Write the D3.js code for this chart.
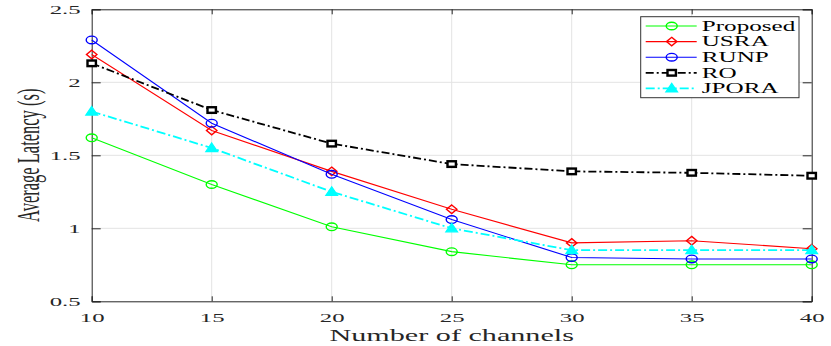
<!DOCTYPE html>
<html>
<head>
<meta charset="utf-8">
<script src="https://cdn.jsdelivr.net/npm/d3@7"></script>
<style>
body { margin: 0; background: #fff; }
text { font-family: "Liberation Serif", "Times New Roman", serif; fill: #262626; }
</style>
</head>
<body>
<div id="chart"></div>
<script>
// values
var channels = [10, 15, 20, 25, 30, 35, 40];
var proposed = [1.62, 1.30, 1.01, 0.84, 0.75, 0.75, 0.75];
var usra     = [2.19, 1.67, 1.39, 1.13, 0.90, 0.915, 0.86];
var runp     = [2.29, 1.72, 1.37, 1.06, 0.80, 0.79, 0.79];
var ro       = [2.13, 1.81, 1.58, 1.44, 1.39, 1.38, 1.36];
var jpora    = [1.80, 1.55, 1.25, 1.00, 0.85, 0.85, 0.85];
var seriesNames = ["Proposed", "USRA", "RUNP", "RO", "JPORA"];
var xTicks = [10, 15, 20, 25, 30, 35, 40];
var yTicks = [0.5, 1, 1.5, 2, 2.5];

var width = 831, height = 346;
var margin = {top: 9.3, right: 19.3, bottom: 44.7, left: 91.7};
var S = 1.85; // the figure is stretched sideways

var series = [
  {name: "Proposed", values: proposed, color: "#00ff00", marker: "circle",   dash: null,      lw: 1.1},
  {name: "USRA",     values: usra,     color: "#ff0000", marker: "diamond",  dash: null,      lw: 1.1},
  {name: "RUNP",     values: runp,     color: "#0000ff", marker: "circle",   dash: null,      lw: 1.1},
  {name: "RO",       values: ro,       color: "#000000", marker: "square",   dash: "8,3,2,3", lw: 1.8},
  {name: "JPORA",    values: jpora,    color: "#00ffff", marker: "triangle", dash: "9,3,2,3", lw: 1.8}
];

var svg = d3.select("#chart").append("svg")
  .attr("width", width)
  .attr("height", height);

var x = d3.scaleLinear().domain([10, 40]).range([margin.left, width - margin.right]);
var y = d3.scaleLinear().domain([0.5, 2.5]).range([height - margin.bottom, margin.top]);

// grid
svg.append("g").selectAll("line").data(xTicks.slice(1, -1)).enter().append("line")
  .attr("x1", function(d) { return x(d); }).attr("x2", function(d) { return x(d); })
  .attr("y1", y(0.5)).attr("y2", y(2.5))
  .attr("stroke", "#e3e3e3").attr("stroke-width", 1);
svg.append("g").selectAll("line").data(yTicks.slice(1, -1)).enter().append("line")
  .attr("x1", x(10)).attr("x2", x(40))
  .attr("y1", function(d) { return y(d); }).attr("y2", function(d) { return y(d); })
  .attr("stroke", "#e3e3e3").attr("stroke-width", 1);

// axes, matlab style ticks inside on all four sides
var fmt = function(d) { return d; };
var gx = svg.append("g").attr("transform", "translate(0," + y(0.5) + ")")
  .call(d3.axisBottom(x).tickValues(xTicks).tickSize(-5).tickPadding(0).tickFormat(fmt));
var gy = svg.append("g").attr("transform", "translate(" + x(10) + ",0)")
  .call(d3.axisLeft(y).tickValues(yTicks).tickSize(-9).tickPadding(0).tickFormat(fmt));
svg.append("g").attr("transform", "translate(0," + y(2.5) + ")")
  .call(d3.axisTop(x).tickValues(xTicks).tickSize(-5).tickFormat(""));
svg.append("g").attr("transform", "translate(" + x(40) + ",0)")
  .call(d3.axisRight(y).tickValues(yTicks).tickSize(-9).tickFormat(""));

svg.selectAll(".domain").attr("stroke", "#262626");
svg.selectAll(".tick line").attr("stroke", "#262626");

gx.selectAll("text")
  .attr("y", 0).attr("dy", null)
  .attr("transform", "translate(0,20.8) scale(" + S + ",1)")
  .style("font-size", "13.4px").style("fill", "#262626");
gy.selectAll("text")
  .attr("x", 0).attr("dy", "0.32em")
  .attr("transform", "translate(-11,0) scale(" + S + ",1)")
  .style("font-size", "13.4px").style("fill", "#262626");

// axis labels
svg.append("text")
  .attr("text-anchor", "middle")
  .attr("transform", "translate(" + (x(10) + x(40)) / 2 + ",340.7) scale(" + S + ",1)")
  .style("font-size", "16.3px")
  .text("Number of channels");
svg.append("text")
  .attr("text-anchor", "middle")
  .attr("transform", "translate(38.5," + (y(0.5) + y(2.5)) / 2 + ") scale(" + S + ",1) rotate(-90)")
  .style("font-size", "16.5px")
  .text("Average Latency (s)");

function marker(g, type, color) {
  if (type == "circle") {
    g.append("ellipse").attr("rx", 5.5).attr("ry", 3.8)
      .attr("fill", "none").attr("stroke", color).attr("stroke-width", 1.4);
  } else if (type == "diamond") {
    g.append("path").attr("d", "M0,-4.3L5.2,0L0,4.3L-5.2,0Z")
      .attr("fill", "none").attr("stroke", color).attr("stroke-width", 1.4);
  } else if (type == "square") {
    g.append("rect").attr("x", -4.2).attr("y", -2.8).attr("width", 8.4).attr("height", 5.6)
      .attr("fill", "#fff").attr("stroke", color).attr("stroke-width", 2.4);
  } else {
    g.append("path").attr("d", "M0,-5L5.8,3.5L-5.8,3.5Z")
      .attr("fill", color).attr("stroke", color).attr("stroke-width", 1.3);
  }
}

var line = d3.line()
  .x(function(d) { return x(d[0]); })
  .y(function(d) { return y(d[1]); });

series.forEach(function(s) {
  var pts = channels.map(function(c, i) { return [c, s.values[i]]; });
  svg.append("path")
    .datum(pts)
    .attr("d", line)
    .attr("fill", "none")
    .attr("stroke", s.color)
    .attr("stroke-width", s.lw)
    .attr("stroke-dasharray", s.dash);
  svg.append("g").selectAll("g").data(pts).enter().append("g")
    .attr("transform", function(d) { return "translate(" + x(d[0]) + "," + y(d[1]) + ")"; })
    .each(function() { marker(d3.select(this), s.marker, s.color); });
});

// legend
var legend = svg.append("g");
legend.append("rect")
  .attr("x", 640.7).attr("y", 16.7).attr("width", 158.3).attr("height", 81)
  .attr("fill", "#fff").attr("stroke", "#333").attr("stroke-width", 1);

var row = legend.selectAll(".row").data(series).enter().append("g")
  .attr("class", "row")
  .attr("transform", function(d, i) { return "translate(0," + (26 + i * 15.6) + ")"; });
row.append("line")
  .attr("x1", 645.7).attr("x2", 696.7)
  .attr("stroke", function(d) { return d.color; })
  .attr("stroke-width", function(d) { return d.lw; })
  .attr("stroke-dasharray", function(d) { return d.dash; });
row.append("g")
  .attr("transform", "translate(671.7,0)")
  .each(function(d) { marker(d3.select(this), d.marker, d.color); });
row.append("text")
  .attr("transform", "translate(701.7,4.8) scale(" + S + ",1)")
  .style("font-size", "13.6px")
  .style("fill", "#000")
  .text(function(d) { return d.name; });
</script>
</body>
</html>
